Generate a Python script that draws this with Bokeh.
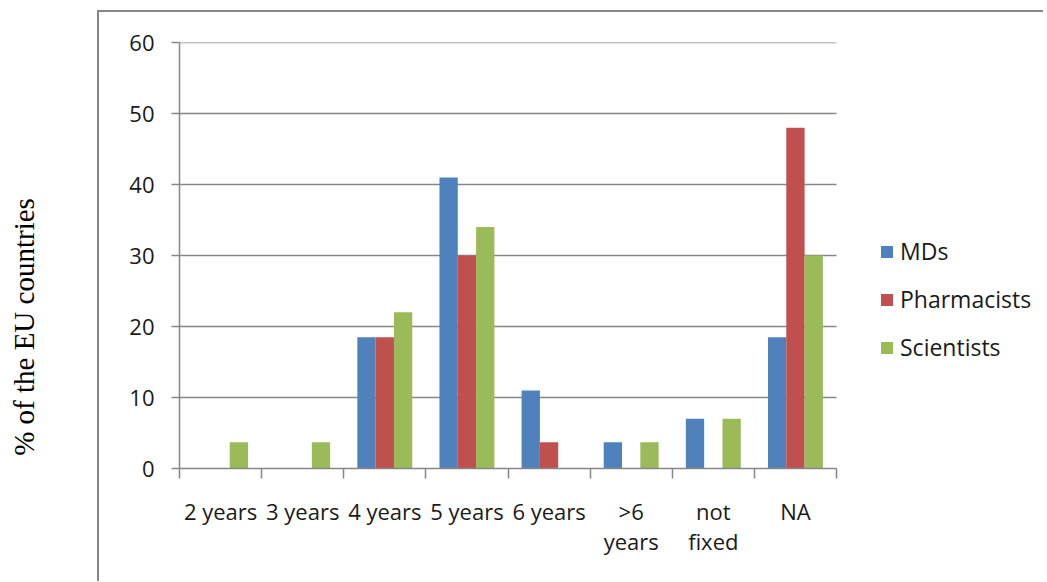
from bokeh.plotting import figure
from bokeh.models import (ColumnDataSource, FixedTicker, Legend, LegendItem,
                          Range1d, Div)
from bokeh.layouts import row
from bokeh.transform import dodge
from bokeh.embed import file_html
from bokeh.resources import INLINE

categories = ["2 years", "3 years", "4 years", "5 years", "6 years", ">6 years", "not fixed", "NA"]
tick_labels = ["2 years", "3 years", "4 years", "5 years", "6 years", ">6\nyears", "not\nfixed", "NA"]
mds = [0, 0, 18.5, 41, 11, 3.7, 7, 18.5]
pharmacists = [0, 0, 18.5, 30, 3.7, 0, 0, 48]
scientists = [3.7, 3.7, 22, 34, 0, 3.7, 7, 30]
y_ticks = [0, 10, 20, 30, 40, 50, 60]
y_title = "% of the EU countries"

FONT = "Open Sans"
GRID = "#878787"
TXT = "#1a1a1a"
N = len(categories)

# layout (pixels)
P_W, P_H = 946, 571
LEFT, TOP, BOTTOM = 80, 30, 115
FRAME_W = P_W - LEFT          # frame reaches the right edge (legend lives inside it)
CAT_W = 657                   # pixel width of the category area

xs = [i + 0.5 for i in range(N)]
src = ColumnDataSource(dict(x=xs, mds=mds, ph=pharmacists, sci=scientists))
gsrc = ColumnDataSource(dict(y=y_ticks[1:], x0=[0] * (len(y_ticks) - 1),
                             x1=[N] * (len(y_ticks) - 1)))

p = figure(width=P_W, height=P_H, output_backend="svg", toolbar_location=None,
           x_range=Range1d(0, N * FRAME_W / CAT_W), y_range=Range1d(0, 60),
           min_border_left=LEFT, min_border_right=0, min_border_top=TOP,
           min_border_bottom=BOTTOM)
p.outline_line_color = None
p.styles = {"border-left": "2px solid #878787", "border-top": "2px solid #878787",
            "margin-top": "10px"}

# horizontal gridlines limited to the category area
p.segment(x0="x0", x1="x1", y0="y", y1="y", source=gsrc, line_color=GRID,
          line_width=1.5, level="underlay")

bw = 0.223
r1 = p.vbar(x=dodge("x", -bw, range=p.x_range), top="mds", width=bw, source=src,
            fill_color="#4F81BD", line_color=None)
r2 = p.vbar(x=dodge("x", 0, range=p.x_range), top="ph", width=bw, source=src,
            fill_color="#C0504D", line_color=None)
r3 = p.vbar(x=dodge("x", bw, range=p.x_range), top="sci", width=bw, source=src,
            fill_color="#9BBB59", line_color=None)

# x axis
p.xaxis.bounds = (0, N)
p.xaxis.ticker = FixedTicker(ticks=xs, minor_ticks=list(range(N + 1)))
p.xaxis.major_label_overrides = {x: t for x, t in zip(xs, tick_labels)}
p.xaxis.major_tick_in = 0
p.xaxis.major_tick_out = 0
p.xaxis.minor_tick_in = 0
p.xaxis.minor_tick_out = 10
p.xaxis.minor_tick_line_color = GRID
p.xaxis.minor_tick_line_width = 1.5
p.xaxis.axis_line_color = GRID
p.xaxis.axis_line_width = 1.5
p.xaxis.major_label_text_font = FONT
p.xaxis.major_label_text_font_size = "22px"
p.xaxis.major_label_text_color = TXT
p.xaxis.major_label_text_line_height = 1.0
p.xaxis.major_label_standoff = 17
p.xgrid.grid_line_color = None
p.ygrid.grid_line_color = None

# y axis
p.yaxis.ticker = FixedTicker(ticks=y_ticks)
p.yaxis.minor_tick_line_color = None
p.yaxis.major_tick_in = 0
p.yaxis.major_tick_out = 8
p.yaxis.major_tick_line_color = GRID
p.yaxis.major_tick_line_width = 1.5
p.yaxis.axis_line_color = GRID
p.yaxis.axis_line_width = 1.5
p.yaxis.major_label_text_font = FONT
p.yaxis.major_label_text_font_size = "22px"
p.yaxis.major_label_text_color = TXT
p.yaxis.major_label_standoff = 17

legend = Legend(items=[LegendItem(label="MDs", renderers=[r1]),
                       LegendItem(label="Pharmacists", renderers=[r2]),
                       LegendItem(label="Scientists", renderers=[r3])],
                location=(700, 105), padding=0, margin=0, border_line_color=None,
                background_fill_alpha=0, glyph_width=15, glyph_height=15,
                label_height=30, spacing=16, label_standoff=6,
                label_text_font=FONT, label_text_font_size="23px",
                label_text_color=TXT)
p.add_layout(legend, "center")

ydiv = Div(width=97, height=581, margin=0,
           text=('<div style="position:relative;width:97px;height:581px;">'
                 '<div style="position:absolute;left:24px;top:327px;'
                 'transform:translate(-50%,-50%) rotate(-90deg);white-space:nowrap;'
                 'font-family:\'Liberation Serif\';font-size:29px;color:#000;line-height:1;">'
                 + y_title.replace("%", "&#37;") + '</div></div>'))

layout = row(ydiv, p, spacing=0)
open("out.html", "w").write(file_html(layout, INLINE))
